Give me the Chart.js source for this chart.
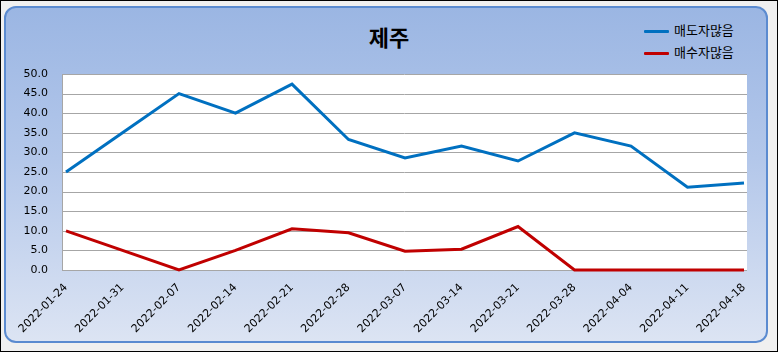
<!DOCTYPE html>
<html lang="ko">
<head>
<meta charset="utf-8">
<title>제주</title>
<script src="https://cdn.jsdelivr.net/npm/chart.js@4/dist/chart.umd.min.js"></script>
<style>
  html, body { margin: 0; padding: 0; background: #f0f0f0; }
  #wrap {
    position: relative;
    width: 778px;
    height: 352px;
    background: #f0f0f0;
    outline: 1px solid #000;
    outline-offset: -1px;
    overflow: hidden;
  }
  .panel {
    position: absolute;
    left: 4px;
    top: 6px;
    width: 760px;
    height: 333px;
    border: 2px solid #5b8bd0;
    border-radius: 12px;
    background: linear-gradient(to bottom, #9bb6e3 0%, #b3c7ea 45%, #dce4f3 100%);
  }
  .title {
    position: absolute;
    left: 0;
    width: 778px;
    top: 20px;
    text-align: center;
    font: bold 22px "Noto Sans CJK KR", sans-serif;
    color: #000;
    line-height: 32px;
  }
  #legend ul {
    position: absolute;
    left: 644px;
    top: 19px;
    margin: 0;
    padding: 0;
    list-style: none;
    font: 13px "Noto Sans CJK KR", sans-serif;
    color: #000;
  }
  #legend li { height: 22px; line-height: 22px; white-space: nowrap; }
  #legend span {
    display: inline-block;
    width: 25px;
    height: 3px;
    vertical-align: middle;
    margin-right: 5px;
    border-radius: 1px;
  }
  canvas { position: absolute; left: 0; top: 0; }
</style>
</head>
<body>
<div id="wrap">
  <div class="panel"></div>
  <div class="title">제주</div>
  <div id="legend"></div>
  <canvas id="chart" width="778" height="352"></canvas>
</div>
<script>
const weeks = [
  '2022-01-24', '2022-01-31', '2022-02-07', '2022-02-14', '2022-02-21', '2022-02-28', '2022-03-07',
  '2022-03-14', '2022-03-21', '2022-03-28', '2022-04-04', '2022-04-11', '2022-04-18',
]
const seriesNames = ['매도자많음', '매수자많음']
const sellersMany = [25.0, 35.0, 45.0, 40.0, 47.4, 33.3, 28.6, 31.6, 27.8, 35.0, 31.6, 21.1, 22.2]
const buyersMany = [10.0, 5.0, 0.0, 5.0, 10.5, 9.5, 4.8, 5.3, 11.1, 0.0, 0.0, 0.0, 0.0]
const yMin = 0
const yMax = 50
const yStep = 5

const colours = ['#0070c0', '#c00000']
const gridColour = '#a6a6a6'
const tickFont = { family: 'DejaVu Sans', size: 11 }

// white plot area, slightly wider than the chart area like the original
const plotBackground = {
  id: 'plotBackground',
  beforeDatasetsDraw(chart) {
    const { ctx, chartArea, scales } = chart
    const left = chartArea.left - 4
    const right = chartArea.right + 3
    ctx.save()
    ctx.fillStyle = '#fff'
    ctx.fillRect(left, chartArea.top, right - left, chartArea.bottom - chartArea.top)
    ctx.strokeStyle = gridColour
    ctx.lineWidth = 1
    scales.y.ticks.forEach((t) => {
      const y = Math.round(scales.y.getPixelForValue(t.value)) + 0.5
      ctx.beginPath()
      ctx.moveTo(left, y)
      ctx.lineTo(right, y)
      ctx.stroke()
    })
    ctx.beginPath()
    ctx.moveTo(left + 0.5, chartArea.top)
    ctx.lineTo(left + 0.5, chartArea.bottom + 1)
    ctx.stroke()
    ctx.restore()
  },
}

const chart = new Chart(document.getElementById('chart'), {
  type: 'line',
  data: {
    labels: weeks,
    datasets: [sellersMany, buyersMany].map((data, i) => ({
      label: seriesNames[i],
      data,
      borderColor: colours[i],
      backgroundColor: colours[i],
      borderWidth: 3,
      pointRadius: 0,
      tension: 0,
      clip: false,
    })),
  },
  options: {
    responsive: false,
    animation: false,
    layout: { padding: { top: 74, right: 34, left: 0, bottom: 0 } },
    plugins: {
      legend: { display: false },
      title: { display: false },
      tooltip: { enabled: false },
    },
    scales: {
      x: {
        offset: false,
        grid: { display: false, drawTicks: false },
        border: { display: false },
        ticks: {
          autoSkip: false,
          minRotation: 45,
          maxRotation: 45,
          padding: 11,
          color: '#000',
          font: tickFont,
        },
        afterFit(scale) { scale.height = 82 },
      },
      y: {
        min: yMin,
        max: yMax,
        grid: { display: false, drawTicks: false },
        border: { display: false },
        ticks: {
          stepSize: yStep,
          padding: 18,
          color: '#000',
          font: tickFont,
          callback: (v) => Number(v).toFixed(1),
        },
        afterFit(scale) { scale.width = 66 },
      },
    },
  },
  plugins: [plotBackground],
})

// html legend, stacked like the original
const ul = document.createElement('ul')
chart.data.datasets.forEach((d) => {
  ul.innerHTML += `<li><span style="background-color: ${d.borderColor}"></span>${d.label}</li>`
})
document.getElementById('legend').appendChild(ul)
</script>
</body>
</html>
